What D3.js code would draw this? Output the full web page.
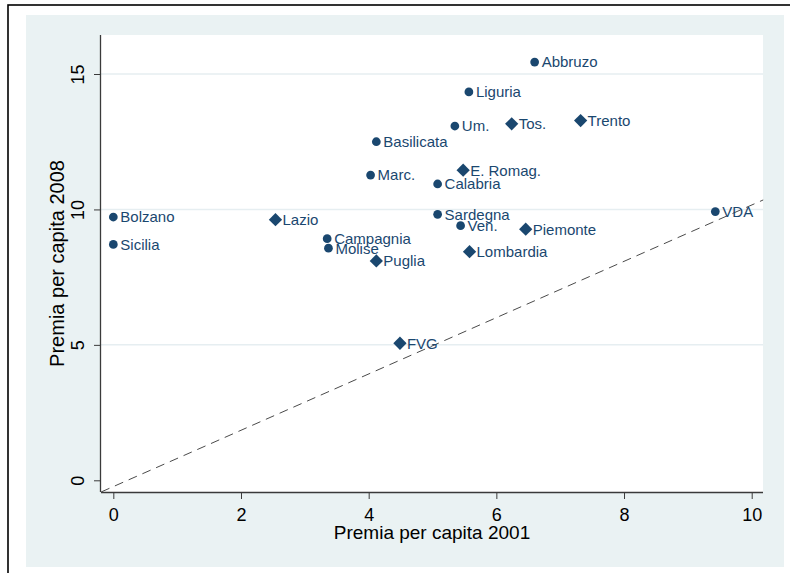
<!DOCTYPE html>
<html>
<head>
<meta charset="utf-8">
<script src="https://cdn.jsdelivr.net/npm/d3@7"></script>
<style>
  html, body { margin: 0; padding: 0; background: #ffffff; }
  svg { display: block; font-family: "Liberation Sans", Arial, sans-serif; }
</style>
</head>
<body>
<svg id="chart" width="790" height="573"></svg>
<script>
// ---- data ----
const regions = ["Abbruzo","Liguria","Um.","Tos.","Trento","Basilicata","Marc.","E. Romag.","Calabria","Sardegna","Ven.","Piemonte","Lombardia","VDA","Bolzano","Sicilia","Lazio","Campagnia","Molise","Puglia","FVG"];
const premia2001 = [6.60, 5.57, 5.35, 6.24, 7.32, 4.12, 4.03, 5.48, 5.08, 5.08, 5.44, 6.46, 5.58, 9.43, 0.00, 0.00, 2.54, 3.35, 3.37, 4.12, 4.49];
const premia2008 = [15.44, 14.34, 13.08, 13.16, 13.28, 12.50, 11.27, 11.45, 10.94, 9.82, 9.40, 9.27, 8.44, 9.92, 9.72, 8.71, 9.62, 8.92, 8.57, 8.10, 5.06];
const markerType = ["circle","circle","circle","diamond","diamond","circle","circle","diamond","circle","circle","circle","diamond","diamond","circle","circle","circle","diamond","circle","circle","diamond","diamond"];
const xTicks = [0, 2, 4, 6, 8, 10];
const yTicks = [0, 5, 10, 15];
const yGrid = [5, 10, 15];
const refLineX = [-0.19, 10.18];
const refLineY = [-0.43, 10.35];
const xDomain = [-0.193, 10.177];
const yDomain = [-0.432, 16.44];
const xTitle = "Premia per capita 2001";
const yTitle = "Premia per capita 2008";

// ---- layout ----
const W = 790, H = 573;
const plot = { left: 101, right: 763, top: 35, bottom: 492 };
const navy = "#1a476f";
const bgCol = "#eaf2f3";

const svg = d3.select("#chart");

// outer frame
svg.append("rect").attr("x", 8).attr("y", 5).attr("width", W + 20).attr("height", H + 20)
  .attr("fill", "#ffffff").attr("stroke", "#000").attr("stroke-width", 1.6);
// graph background
svg.append("rect").attr("x", 26).attr("y", 15).attr("width", 784 - 26).attr("height", 567 - 15)
  .attr("fill", bgCol);
// plot region
svg.append("rect").attr("x", plot.left).attr("y", plot.top)
  .attr("width", plot.right - plot.left).attr("height", plot.bottom - plot.top)
  .attr("fill", "#ffffff");

const x = d3.scaleLinear().domain(xDomain).range([plot.left, plot.right]);
const y = d3.scaleLinear().domain(yDomain).range([plot.bottom, plot.top]);

// gridlines
svg.append("g").selectAll("line").data(yGrid).join("line")
  .attr("x1", plot.left).attr("x2", plot.right)
  .attr("y1", d => y(d)).attr("y2", d => y(d))
  .attr("stroke", "#e6eef1").attr("stroke-width", 1.5);

// reference dashed line
const refData = refLineX.map((v, i) => ({ x: v, y: refLineY[i] }));
svg.append("path").datum(refData)
  .attr("d", d3.line().x(d => x(d.x)).y(d => y(d.y)))
  .attr("fill", "none").attr("stroke", "#4a4a4a").attr("stroke-width", 1)
  .attr("stroke-dasharray", "9,6");

// axes
const xAxis = d3.axisBottom(x).tickValues(xTicks).tickSize(7).tickPadding(8).tickFormat(d3.format("d"));
const gx = svg.append("g").attr("transform", `translate(0,${plot.bottom})`).call(xAxis);
gx.select(".domain").attr("d", `M${plot.left},0.5H${plot.right}`).attr("stroke", "#3a3a3a").attr("stroke-width", 1.3);
gx.selectAll(".tick line").attr("stroke", "#3a3a3a");
gx.selectAll(".tick text").attr("font-size", 18).attr("fill", "#000").attr("font-family", "Liberation Sans, Arial, sans-serif")
  .attr("y", 29).attr("dy", 0);

const yAxis = d3.axisLeft(y).tickValues(yTicks).tickSize(7).tickFormat(d3.format("d"));
const gy = svg.append("g").attr("transform", `translate(${plot.left},0)`).call(yAxis);
gy.select(".domain").attr("d", `M-0.5,${plot.top}V${plot.bottom}`).attr("stroke", "#3a3a3a").attr("stroke-width", 1.3);
gy.selectAll(".tick line").attr("stroke", "#3a3a3a");
gy.selectAll(".tick text").attr("font-size", 18).attr("fill", "#000").attr("font-family", "Liberation Sans, Arial, sans-serif")
  .attr("x", 0).attr("dy", 0).attr("text-anchor", "middle")
  .attr("transform", "translate(-17,0) rotate(-90)");

// axis titles
svg.append("text").attr("x", (plot.left + plot.right) / 2).attr("y", 539)
  .attr("text-anchor", "middle").attr("font-size", 19).attr("fill", "#000").text(xTitle);
svg.append("text").attr("transform", `translate(64,${(plot.top + plot.bottom) / 2}) rotate(-90)`)
  .attr("text-anchor", "middle").attr("font-size", 20).attr("fill", "#000").text(yTitle);

// points
const pts = regions.map((r, i) => ({ name: r, x: premia2001[i], y: premia2008[i], type: markerType[i] }));
const circleSym = d3.symbol(d3.symbolCircle, 60);
const squareSym = d3.symbol(d3.symbolSquare, 88);
const gp = svg.append("g");
gp.selectAll("path").data(pts).join("path")
  .attr("d", d => d.type === "diamond" ? squareSym() : circleSym())
  .attr("transform", d => `translate(${x(d.x)},${y(d.y)})` + (d.type === "diamond" ? " rotate(45)" : ""))
  .attr("fill", navy);
gp.selectAll("text").data(pts).join("text")
  .attr("x", d => x(d.x) + 7).attr("y", d => y(d.y)).attr("dy", "0.36em")
  .attr("font-size", 15).attr("fill", navy).text(d => d.name);
</script>
</body>
</html>
